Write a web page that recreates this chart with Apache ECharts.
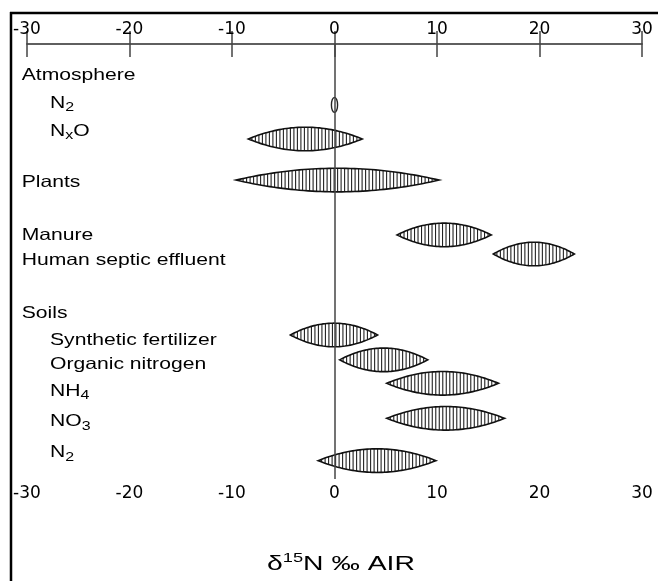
<!DOCTYPE html>
<html>
<head>
<meta charset="utf-8">
<script src="https://cdn.jsdelivr.net/npm/echarts@6/dist/echarts.min.js"></script>
<style>
  html, body { margin: 0; padding: 0; background: #fff; }
  #main { width: 658px; height: 581px; }
</style>
</head>
<body>
<div id="main"></div>
<script>
// row labels down the left side (rich text for subscripts)
var labels = ['Atmosphere', 'N{s|2}', 'N{s|x}O', 'Plants', 'Manure', 'Human septic effluent',
              'Soils', 'Synthetic fertilizer', 'Organic nitrogen', 'NH{s|4}', 'NO{s|3}', 'N{s|2}'];
var labelLevel = [0, 1, 1, 0, 0, 0, 0, 1, 1, 1, 1, 1];
var labelRows = [1.30, 2.45, 3.60, 5.73, 7.92, 8.95, 11.17, 12.25, 13.28, 14.36, 15.63, 16.92];

// d15N ranges (per mil vs AIR)
var sources = ['N2 atmosphere', 'NxO', 'Plants', 'Manure', 'Human septic effluent',
               'Synthetic fertilizer', 'Organic nitrogen', 'NH4', 'NO3', 'N2 soils'];
var lows  = [-0.3, -8.4, -9.6,  6.1, 15.5, -4.3, 0.5,  5.1,  5.1, -1.6];
var highs = [ 0.3,  2.7, 10.2, 15.3, 23.4,  4.2, 9.1, 16.0, 16.6,  9.9];
var shapeRows = [2.52, 3.93, 5.63, 7.90, 8.69, 12.04, 13.07, 14.04, 15.49, 17.24];

var xTicks = [-30, -20, -10, 0, 10, 20, 30];

var chart = echarts.init(document.getElementById('main'));

function lens(params, api) {
    var p1 = api.coord([api.value(0), api.value(2)]);
    var p2 = api.coord([api.value(1), api.value(2)]);
    var x1 = p1[0], x2 = p2[0], yc = p1[1], w = x2 - x1;
    var kids = [];
    if (w < 12) {
        kids.push({ type: 'ellipse', shape: { cx: (x1 + x2) / 2, cy: yc, rx: w / 2, ry: 7.5 },
                    style: { fill: '#fff', stroke: '#222', lineWidth: 1.4 } });
        return { type: 'group', children: kids };
    }
    var H = 11.8, n = 48, up = [], lo = [];
    for (var i = 0; i <= n; i++) {
        var t = i / n, h = H * 4 * t * (1 - t);
        up.push([x1 + t * w, yc - h]);
        lo.unshift([x1 + t * w, yc + h]);
    }
    var pts = up.concat(lo);
    kids.push({ type: 'polygon', shape: { points: pts }, style: { fill: '#fff' } });
    for (var x = x1 + 3.5; x < x2 - 1.5; x += 3.5) {
        var tt = (x - x1) / w, hh = H * 4 * tt * (1 - tt);
        kids.push({ type: 'line', shape: { x1: x, y1: yc - hh, x2: x, y2: yc + hh },
                    style: { stroke: '#222', lineWidth: 1.1 } });
    }
    kids.push({ type: 'polygon', shape: { points: pts },
                style: { fill: 'none', stroke: '#111', lineWidth: 1.6 } });
    return { type: 'group', children: kids };
}

function rowLabel(params, api) {
    var p = api.coord([xTicks[0], api.value(1)]);
    return {
        type: 'text',
        x: p[0] - 5.3 + api.value(2) * 28.3,
        y: p[1],
        scaleX: 1.28,
        style: {
            text: labels[params.dataIndex],
            fontFamily: 'Liberation Sans', fontSize: 16.5, lineHeight: 22,
            fill: '#000', align: 'left', verticalAlign: 'middle',
            rich: { s: { fontSize: 12.5, lineHeight: 12, verticalAlign: 'bottom', fill: '#000',
                         fontFamily: 'Liberation Sans' } }
        }
    };
}

var axisCommon = {
    type: 'value', min: -30, max: 30, interval: 10,
    axisLine: { show: true, lineStyle: { color: '#555', width: 1.5 } },
    axisTick: { show: true, inside: true, length: 13, lineStyle: { color: '#444', width: 1.5 } },
    axisLabel: { color: '#000', fontFamily: 'DejaVu Sans', fontSize: 17, margin: 6 },
    splitLine: { show: false }
};

chart.setOption({
    animation: false,
    backgroundColor: '#fff',
    grid: { left: 27, right: 16, top: 44, bottom: 102 },
    xAxis: [
        Object.assign({ position: 'bottom' }, axisCommon),
        Object.assign({ position: 'top' }, axisCommon)
    ],
    yAxis: { type: 'value', min: 0, max: 18, inverse: true, show: false },
    graphic: [
        { type: 'line', shape: { x1: 10, y1: 13, x2: 658, y2: 13 }, style: { stroke: '#000', lineWidth: 2.5 } },
        { type: 'line', shape: { x1: 11, y1: 12, x2: 11, y2: 581 }, style: { stroke: '#000', lineWidth: 2.5 } },
        {
            type: 'text', x: 341, y: 564, scaleX: 1.35,
            style: {
                text: 'δ{sup|15}N ‰ AIR',
                fontFamily: 'Liberation Sans', fontSize: 21, lineHeight: 26,
                fill: '#000', align: 'center', verticalAlign: 'middle',
                rich: { sup: { fontSize: 13.5, lineHeight: 13, verticalAlign: 'top', fill: '#000',
                               fontFamily: 'Liberation Sans' } }
            }
        }
    ],
    series: [
        {
            type: 'custom', name: 'ranges',
            renderItem: lens,
            encode: { x: [0, 1], y: 2 },
            data: lows.map(function (v, i) { return [v, highs[i], shapeRows[i], sources[i]]; }),
            markLine: {
                silent: true, symbol: 'none', label: { show: false },
                lineStyle: { color: '#444', width: 1.5, type: 'solid' },
                data: [{ xAxis: 0 }]
            }
        },
        {
            type: 'custom', name: 'labels',
            renderItem: rowLabel,
            encode: { x: 0, y: 1 },
            clip: false,
            data: labels.map(function (t, i) { return [xTicks[0], labelRows[i], labelLevel[i]]; })
        }
    ]
});
</script>
</body>
</html>
